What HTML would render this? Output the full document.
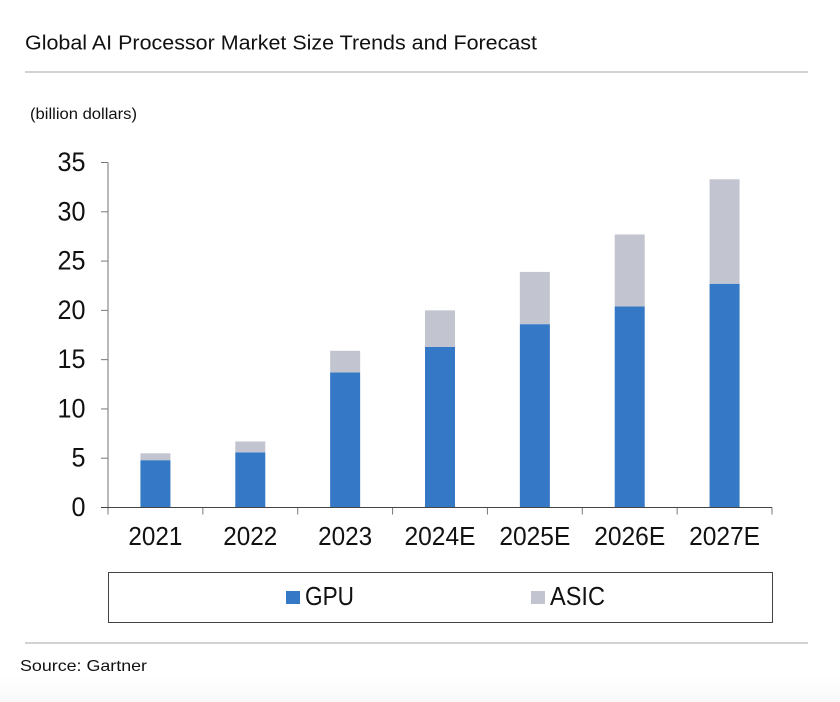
<!DOCTYPE html>
<html>
<head>
<meta charset="utf-8">
<style>
html,body{margin:0;padding:0;background:#fff;}
body{width:840px;height:702px;overflow:hidden;position:relative;font-family:"Liberation Sans",sans-serif;}
svg{position:absolute;left:0;top:0;}
text{font-family:"Liberation Sans",sans-serif;fill:#111;}
</style>
</head>
<body>
<svg id="chart" width="840" height="702" viewBox="0 0 840 702">
<defs>
<linearGradient id="footer-fade" x1="0" y1="0" x2="0" y2="1">
<stop offset="0" stop-color="#ffffff"/>
<stop offset="1" stop-color="#f9f9f9"/>
</linearGradient>
</defs>
<rect x="0" y="676" width="840" height="26" fill="url(#footer-fade)"/>
<text x="25" y="49.500" font-size="20" textLength="512" lengthAdjust="spacingAndGlyphs">Global AI Processor Market Size Trends and Forecast</text>
<line x1="25" x2="808" y1="72" y2="72" stroke="#c4c4c4" stroke-width="1.5"/>
<text x="30" y="119" font-size="15.500" textLength="107" lengthAdjust="spacingAndGlyphs" fill="#222">(billion dollars)</text>
<rect x="108.500" y="572.500" width="664" height="50" fill="#fff" stroke="#444"/>
<rect x="286" y="591" width="14" height="13" fill="#3478c6"/>
<text x="305" y="605" font-size="26" textLength="49" lengthAdjust="spacingAndGlyphs">GPU</text>
<rect x="531" y="591" width="14" height="13" fill="#c2c5d0"/>
<text x="550" y="605" font-size="26" textLength="55" lengthAdjust="spacingAndGlyphs">ASIC</text>
<line x1="25" x2="808" y1="643" y2="643" stroke="#c4c4c4" stroke-width="1.5"/>
<text x="20" y="671" font-size="16" textLength="127" lengthAdjust="spacingAndGlyphs" fill="#222">Source: Gartner</text>
<g id="plot"></g>
</svg>
<script>
const categories = ['2021','2022','2023','2024E','2025E','2026E','2027E'];
const gpuValues = [4.8,5.6,13.7,16.3,18.6,20.4,22.7];
const asicValues = [0.7,1.1,2.2,3.7,5.3,7.3,10.6];
const yTickLabels = [0,5,10,15,20,25,30,35];

const NS = 'http://www.w3.org/2000/svg';
const plot = document.getElementById('plot');
const plotLeft = 108, plotRight = 772, plotBottom = 507.5, plotTop = 162.5, yMax = 35;
const bandWidth = (plotRight - plotLeft) / categories.length;
const barWidth = 30;
const yScale = v => plotBottom - (v / yMax) * (plotBottom - plotTop);
const xBand = i => plotLeft + i * bandWidth;

function make(tag, attrs) {
  const el = document.createElementNS(NS, tag);
  for (const k in attrs) el.setAttribute(k, attrs[k]);
  plot.appendChild(el);
  return el;
}

categories.forEach((c, i) => {
  const cx = xBand(i) + bandWidth / 2;
  const g = gpuValues[i], a = asicValues[i];
  const gpuBar = make('rect', {x: cx - barWidth / 2, y: yScale(g), width: barWidth, height: yScale(0) - yScale(g), fill: '#3478c6'});
  
  
  const asicBar = make('rect', {x: cx - barWidth / 2, y: yScale(g + a), width: barWidth, height: yScale(g) - yScale(g + a), fill: '#c2c5d0'});
  
  
  const label = make('text', {x: cx, y: 545, 'font-size': 26, 'text-anchor': 'middle', textLength: c.length > 4 ? 71 : 54, lengthAdjust: 'spacingAndGlyphs'});
  label.textContent = c;
  
  
});

yTickLabels.forEach(v => {
  const y = yScale(v);
  const tick = make('line', {x1: 101, x2: 108, y1: y, y2: y, stroke: '#777', 'stroke-width': 1});
  
  
  const label = make('text', {x: 85.5, y: y + 8.5, 'font-size': 27, 'text-anchor': 'end', textLength: v >= 10 ? 28 : 14, lengthAdjust: 'spacingAndGlyphs'});
  label.textContent = v;
  
  
});

for (let i = 0; i <= categories.length; i++) {
  const x = xBand(i);
  const tick = make('line', {x1: x, x2: x, y1: plotBottom, y2: plotBottom + 7, stroke: '#777', 'stroke-width': 1});
  
  
}

const yAxis = make('line', {x1: plotLeft, x2: plotLeft, y1: plotTop, y2: plotBottom, stroke: '#888', 'stroke-width': 1.2});


const xAxis = make('line', {x1: 101, x2: plotRight, y1: plotBottom, y2: plotBottom, stroke: '#444', 'stroke-width': 1});


</script>
</body>
</html>
